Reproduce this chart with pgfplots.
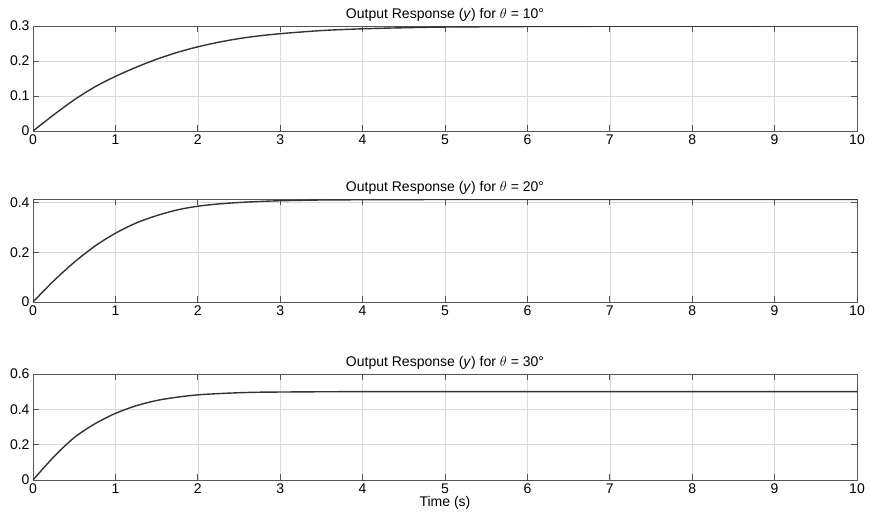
\documentclass[border=0pt]{standalone}
\usepackage{fontspec}
\setmainfont{Liberation Sans}
\usepackage{pgfplots}
\pgfplotsset{compat=1.18}

\definecolor{axisgray}{HTML}{555555}
\definecolor{gridgray}{HTML}{DADADA}
\definecolor{curve}{HTML}{333333}

\pgfplotsset{
  resp/.style={
    anchor=north west,
    width=824pt, height=105pt, scale only axis,
    xmin=0, xmax=10, xtick={0,1,...,10},
    axis line style={axisgray, line width=0.9pt},
    tick style={axisgray, line width=0.9pt},
    major tick length=6pt, tick align=inside,
    xtick pos=both, ytick pos=both,
    xticklabel pos=lower, yticklabel pos=left,
    grid=major, major grid style={gridgray, line width=0.6pt},
    tick label style={font=\fontsize{14}{16}\selectfont, color=black},
    title style={font=\fontsize{14}{16}\selectfont, yshift=-5pt},
    label style={font=\fontsize{14}{16}\selectfont},
    /pgf/number format/assume math mode=true,
    yticklabel style={/pgf/number format/fixed, /pgf/number format/precision=1},
    every axis plot post/.append style={curve, line width=1.4pt, smooth, mark=none},
  }
}

\begin{document}
\begin{tikzpicture}
\begin{axis}[resp, at={(0,0)}, ymin=0, ymax=0.3, ytick={0,0.1,0.2,0.3},
  title={Output Response (\textit{y}) for $\theta$ = 10\textdegree}]
\addplot coordinates {(0,0) (0.25,0.046) (0.5,0.089) (0.75,0.126) (1,0.156) (1.25,0.182)
  (1.5,0.205) (1.75,0.2245) (2,0.2405) (2.25,0.2535) (2.5,0.264) (2.75,0.272) (3,0.278)
  (3.5,0.287) (4,0.292) (4.5,0.295) (5,0.297) (6,0.2985) (7,0.2993) (8,0.2997) (9,0.2999) (10,0.3)};
\end{axis}

\begin{axis}[resp, at={(0,-173pt)}, height=103pt, ymin=0, ymax=0.415, ytick={0,0.2,0.4},
  title={Output Response (\textit{y}) for $\theta$ = 20\textdegree}]
\addplot coordinates {(0,0) (0.25,0.085) (0.5,0.16) (0.75,0.225) (1,0.277) (1.25,0.318)
  (1.5,0.348) (1.75,0.371) (2,0.386) (2.25,0.395) (2.5,0.401) (2.75,0.405) (3,0.408)
  (3.5,0.411) (4,0.412) (5,0.413) (6,0.413) (8,0.413) (10,0.413)};
\end{axis}

\begin{axis}[resp, at={(0,-348pt)}, height=106pt, ymin=0, ymax=0.6, ytick={0,0.2,0.4,0.6},
  title={Output Response (\textit{y}) for $\theta$ = 30\textdegree},
  xlabel={Time (s)}, xlabel style={yshift=4pt}]
\addplot coordinates {(0,0) (0.25,0.13) (0.5,0.24) (0.75,0.318) (1,0.377) (1.25,0.42)
  (1.5,0.45) (1.75,0.469) (2,0.482) (2.25,0.489) (2.5,0.494) (2.75,0.497) (3,0.498)
  (3.5,0.4995) (4,0.5) (6,0.5) (8,0.5) (10,0.5)};
\end{axis}

\pgfresetboundingbox
\path (-33pt,26pt) rectangle (837pt,-497pt);
\end{tikzpicture}
\end{document}
